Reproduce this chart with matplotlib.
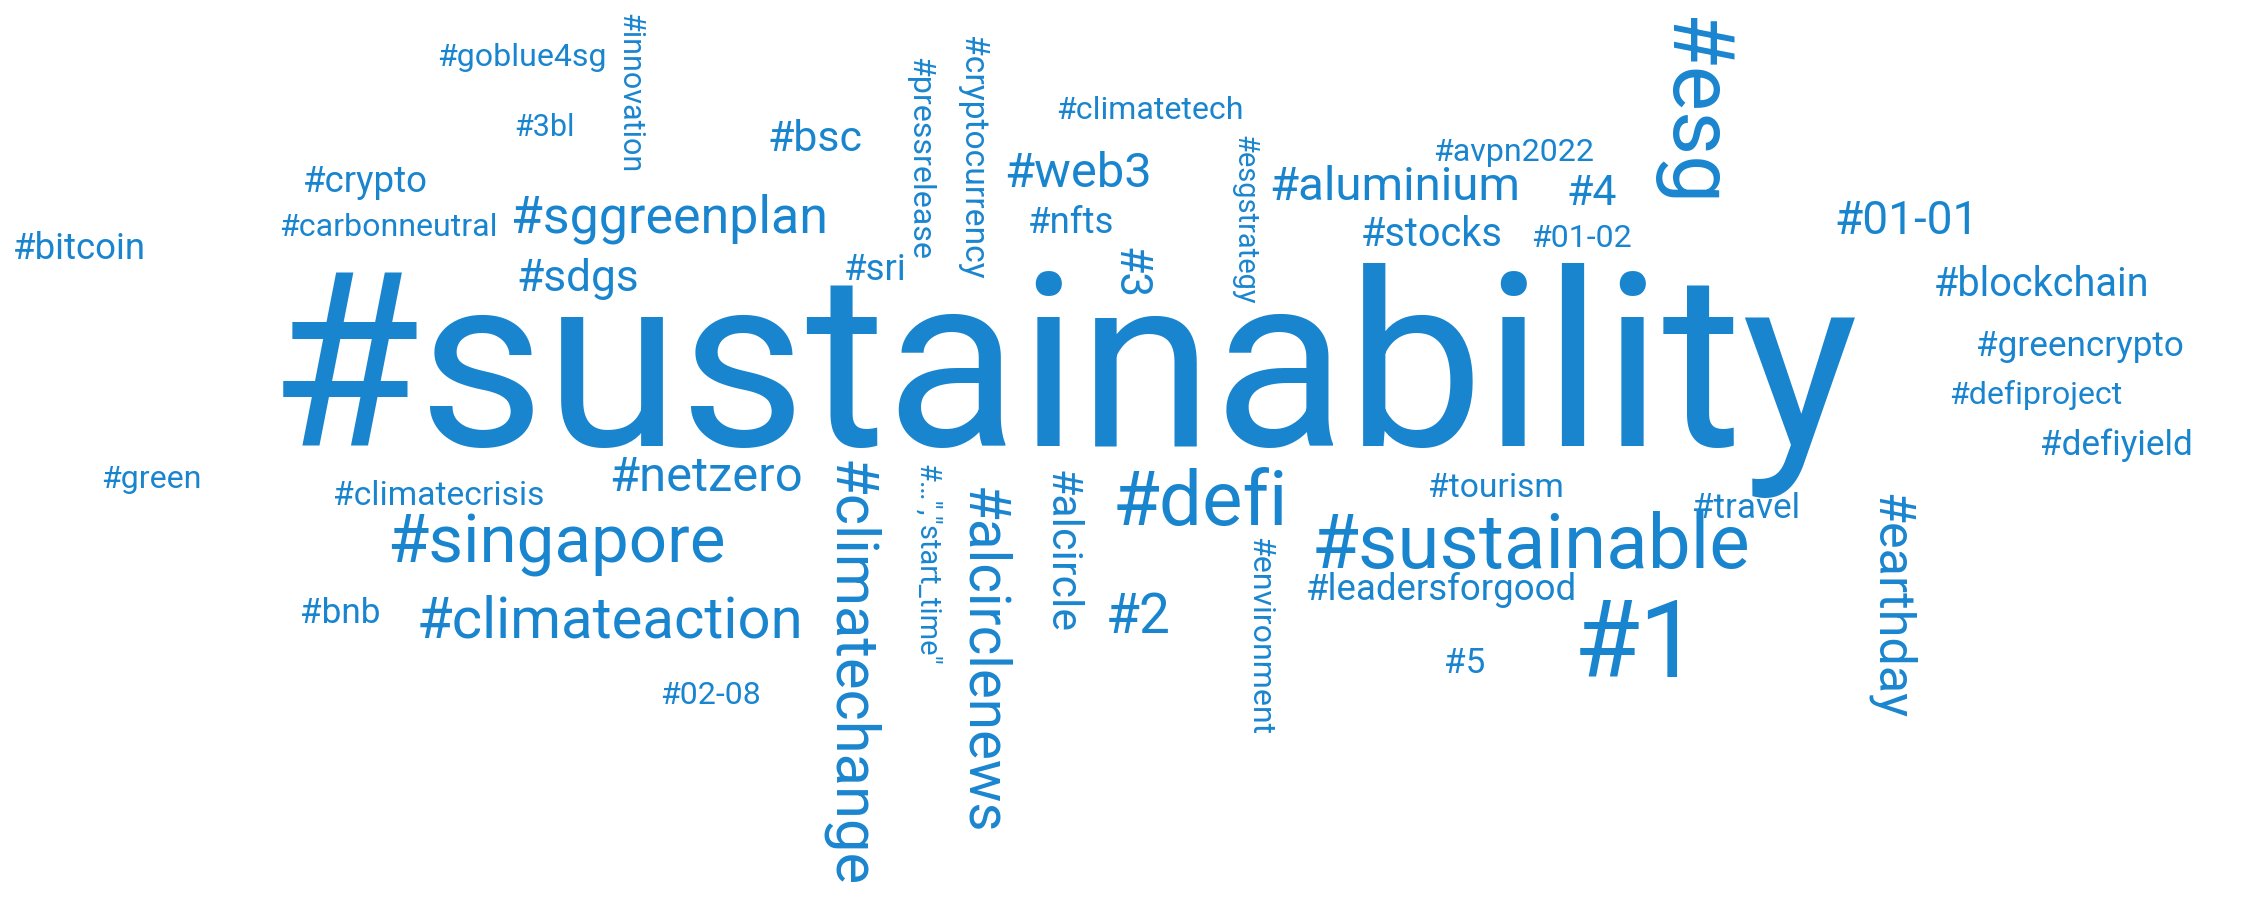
import matplotlib
matplotlib.use("Agg")
import matplotlib.pyplot as plt

words = [
    "#sustainability", "#esg", "#1", "#defi", "#sustainable", "#climatechange",
    "#singapore", "#climateaction", "#alcirclenews", "#earthday", "#sggreenplan",
    "#netzero", "#web3", "#aluminium", "#2", "#01-01", "#blockchain", "#stocks",
    "#sdgs", "#bsc", "#4", "#3", "#leadersforgood", "#alcircle", "#greencrypto",
    "#travel", "#tourism", "#climatecrisis", "#defiproject", "#defiyield",
    "#crypto", "#carbonneutral", "#goblue4sg", "#3bl", "#bitcoin", "#green",
    "#bnb", "#02-08", "#5", "#01-02", "#avpn2022", "#climatetech", "#nfts",
    "#sri", "#innovation", "#pressrelease", "#cryptocurrency", "#esgstrategy",
    "#environment", "#\u2026\",\"start_time\"",
]
weights = [
    80, 28, 35, 25, 25, 19.5,
    22, 19, 18.5, 16.5, 17,
    16, 16, 15.5, 18, 15, 13, 13,
    14.5, 14, 14, 14.5, 12, 14, 11.5,
    11.5, 11, 11, 10.5, 11.5,
    12, 10.5, 10.5, 10, 12, 10.5,
    11.5, 10.5, 11.5, 10.5, 10.5, 10.5, 12,
    12, 10, 10.5, 11, 9.5,
    10.5, 9.5,
]

# layout of the cloud (word centres, reference image scaled to 1568 x 632)
xs = [
    740, 1176, 1139, 835, 1065, 591,
    387, 424, 683, 1315, 466,
    491, 750, 970, 792, 1326, 1420, 996,
    402, 567, 1107, 786, 1003, 738, 1447,
    1215, 1041, 305, 1416, 1472,
    254, 270, 363, 379, 55, 105,
    237, 494, 1019, 1100, 1053, 800, 745,
    609, 438, 640, 676, 866,
    876, 645,
]
ys = [
    265, 78, 451, 351, 381, 469,
    379, 433, 460, 422, 152,
    333, 121, 130, 430, 154, 198, 163,
    194, 97, 135, 190, 411, 384, 241,
    354, 340, 345, 275, 310,
    127, 158, 40, 89, 173, 334,
    427, 484, 462, 166, 106, 77, 155,
    188, 65, 110, 110, 153,
    443, 393,
]
vertical = {"#esg", "#climatechange", "#alcirclenews", "#earthday", "#3",
            "#alcircle", "#innovation", "#pressrelease", "#cryptocurrency",
            "#esgstrategy", "#environment", "#\u2026\",\"start_time\""}

PT_PER_UNIT = 2.2
COLOR = "#1a85cf"

plt.rcParams["font.family"] = ["Roboto", "DejaVu Sans"]

fig = plt.figure(figsize=(22.54, 9.08), dpi=100)
ax = fig.add_axes([0, 0, 1, 1])
ax.set_xlim(0, 1568)
ax.set_ylim(632, 0)
ax.axis("off")

for word, w, x, y in zip(words, weights, xs, ys):
    rot = -90 if word in vertical else 0
    ax.text(x, y, word, fontsize=w * PT_PER_UNIT, color=COLOR,
            ha="center", va="center", rotation=rot, rotation_mode="anchor")

fig.savefig("out.png", dpi=100, facecolor="white")
